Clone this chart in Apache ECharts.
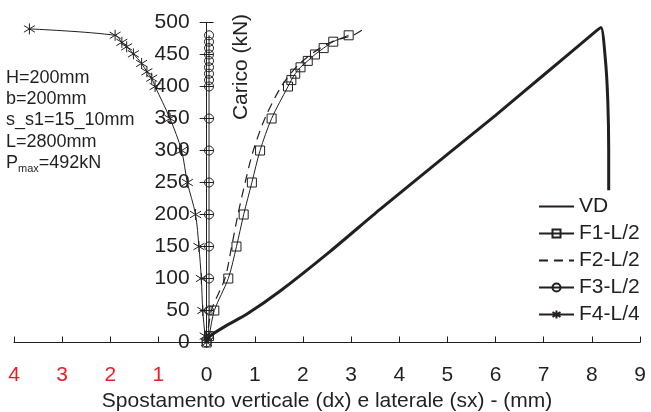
<!DOCTYPE html>
<html>
<head>
<meta charset="utf-8">
<script src="https://cdn.jsdelivr.net/npm/echarts@6/dist/echarts.min.js"></script>
<style>
  html, body { margin: 0; padding: 0; background: #fff; }
  #chart { width: 651px; height: 412px; }
</style>
</head>
<body>
<div id="chart"></div>
<script>
// load (kN) vs displacement (mm); lateral displacement plotted on the negative side
const vdData = [[0, 0], [0.07, 10], [0.4, 26], [0.83, 44], [1.52, 80], [2.56, 142], [3.6, 208], [5, 294], [6, 355], [7, 418], [8, 481], [8.19, 492], [8.28, 443], [8.33, 380], [8.35, 300], [8.35, 238]]
const f1Data = [[0, 0], [0.05, 10], [0.16, 50], [0.45, 100], [0.62, 150], [0.77, 200], [0.94, 250], [1.11, 300], [1.35, 350], [1.69, 400], [1.76, 410], [1.84, 420], [1.95, 430], [2.1, 440], [2.25, 450], [2.43, 460], [2.63, 470], [2.95, 480]]
const f2Data = [[0, 0], [0.1, 50], [0.38, 100], [0.52, 150], [0.65, 200], [0.8, 250], [0.97, 300], [1.21, 350], [1.55, 400], [1.87, 431], [2.2, 452], [2.6, 470], [3.04, 480], [3.25, 489]]
const f3Data = [[0, 0], [0.04, 10], [0.05, 50], [0.05, 100], [0.05, 150], [0.05, 200], [0.05, 250], [0.05, 300], [0.05, 350], [0.05, 400], [0.05, 410], [0.05, 420], [0.05, 430], [0.05, 440], [0.05, 450], [0.05, 460], [0.05, 470], [0.05, 480]]
const f4Data = [[0, 0], [-0.03, 10], [-0.08, 50], [-0.11, 100], [-0.16, 150], [-0.23, 200], [-0.4, 250], [-0.52, 300], [-0.76, 350], [-1.07, 400], [-1.14, 413], [-1.24, 423], [-1.35, 436], [-1.52, 451], [-1.66, 462], [-1.76, 469], [-1.9, 480], [-3.68, 490]]

const notes = ["H=200mm", "b=200mm", "s_s1=15_10mm", "L=2800mm", "P{sub|max}=492kN"]

const ink = "#231f20"
const red = "#ed1c24"
const clear = "rgba(0,0,0,0)"
const font = "Liberation Sans"
const starPath = "path://M-9,-6L9,6M-9,6L9,-6M0,-10L0,10"

const xMin = -4
const xMax = 9
const grid = { left: 14, right: 11, top: 22.5, bottom: 69.5 }
// the load axis stands at x = 0, so shift it in from the grid's left edge
const gridWidth = 651 - grid.left - grid.right
const yShift = -((0 - xMin) / (xMax - xMin)) * gridWidth

const chart = echarts.init(document.getElementById("chart"))

const yBase = {
	type: "value",
	min: 0,
	max: 500,
	interval: 50,
	position: "left",
	offset: yShift,
	splitLine: { show: false },
	axisLine: { onZero: false, lineStyle: { color: ink, width: 1 } },
}

let options = {
	animation: false,
	textStyle: { fontFamily: font },
	grid: { ...grid, containLabel: false, outerBoundsMode: "none" },
	xAxis: {
		type: "value",
		min: xMin,
		max: xMax,
		interval: 1,
		splitLine: { show: false },
		axisLine: { onZero: false, lineStyle: { color: ink, width: 1 } },
		axisTick: { inside: true, length: 6, lineStyle: { color: ink } },
		axisLabel: {
			margin: 22,
			fontSize: 21,
			fontFamily: font,
			formatter: (v) => String(Math.abs(v)),
			color: (v) => (Number(v) < 0 ? red : ink),
		},
		name: "Spostamento verticale (dx) e laterale (sx) - (mm)",
		nameLocation: "middle",
		nameGap: 45,
		nameTextStyle: { fontSize: 21, color: ink, fontFamily: font },
	},
	yAxis: [
		{
			...yBase,
			axisTick: { inside: false, length: 7, lineStyle: { color: ink } },
			axisLabel: { margin: 17, fontSize: 21, color: ink, fontFamily: font },
		},
		{
			...yBase,
			axisTick: { inside: true, length: 7, lineStyle: { color: ink } },
			axisLabel: { show: false },
		},
	],
	legend: {
		orient: "vertical",
		left: 533,
		top: 191,
		itemWidth: 35,
		itemHeight: 10,
		itemGap: 6,
		textStyle: { fontSize: 21, color: ink, fontFamily: font },
		data: ["VD", "F1-L/2", "F2-L/2", "F3-L/2", "F4-L/4"],
	},
	graphic: [
		{
			type: "text",
			left: 6,
			top: 67,
			style: {
				text: notes.join("\n"),
				fontSize: 18,
				lineHeight: 21.4,
				fill: ink,
				fontFamily: font,
				rich: { sub: { fontSize: 11, verticalAlign: "bottom", padding: [6, 0, 0, 0] } },
			},
		},
		{
			type: "text",
			x: 241,
			y: 67,
			rotation: Math.PI / 2,
			style: {
				text: "Carico (kN)",
				fontSize: 21,
				fill: ink,
				fontFamily: font,
				align: "center",
				verticalAlign: "middle",
			},
		},
	],
	series: [
		{
			name: "VD",
			type: "line",
			data: vdData,
			smooth: 0.2,
			showSymbol: false,
			symbol: "none",
			lineStyle: { color: ink, width: 3 },
			itemStyle: { color: clear },
		},
		{
			name: "F1-L/2",
			type: "line",
			data: f1Data,
			smooth: 0.3,
			symbol: "rect",
			symbolSize: 9,
			lineStyle: { color: ink, width: 1 },
			itemStyle: { color: clear, borderColor: ink, borderWidth: 1 },
		},
		{
			name: "F2-L/2",
			type: "line",
			data: f2Data,
			smooth: 0.3,
			symbol: "none",
			lineStyle: { color: ink, width: 1.2, type: [9, 6] },
			itemStyle: { color: clear },
		},
		{
			name: "F3-L/2",
			type: "line",
			data: f3Data,
			symbol: "circle",
			symbolSize: 9,
			lineStyle: { color: ink, width: 1 },
			itemStyle: { color: clear, borderColor: ink, borderWidth: 1 },
		},
		{
			name: "F4-L/4",
			type: "line",
			data: f4Data,
			smooth: 0.3,
			symbol: starPath,
			symbolSize: 11,
			lineStyle: { color: ink, width: 1 },
			itemStyle: { color: clear, borderColor: ink, borderWidth: 1 },
		},
	],
}

chart.setOption(options)
</script>
</body>
</html>
